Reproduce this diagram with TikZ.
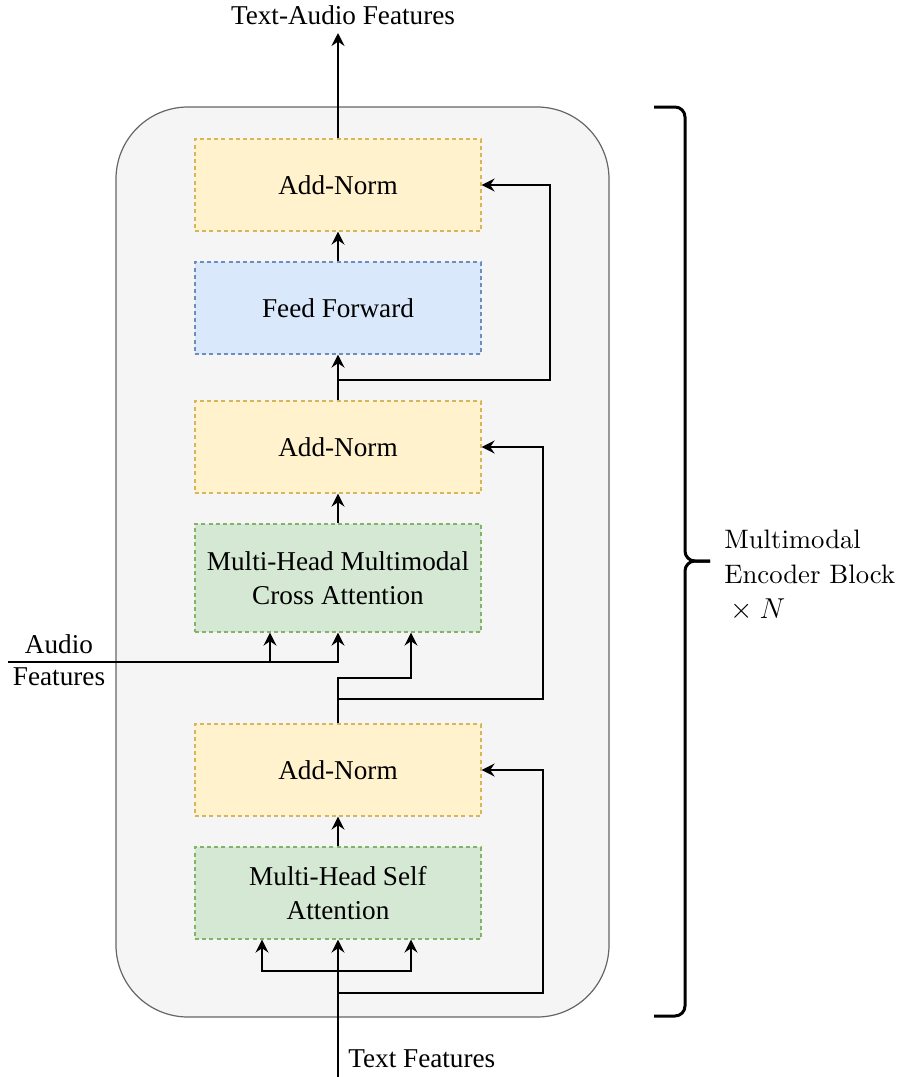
\documentclass[tikz,border=0pt]{standalone}
\usepackage{fontspec}
\newfontfamily\serifface{Liberation Serif}
\newfontfamily\labelface{lmroman10-regular.otf}
\usetikzlibrary{arrows.meta}

\definecolor{normfill}{HTML}{FFF2CC}
\definecolor{normline}{HTML}{D6B656}
\definecolor{fffill}{HTML}{DAE8FC}
\definecolor{ffline}{HTML}{6C8EBF}
\definecolor{attfill}{HTML}{D5E8D4}
\definecolor{attline}{HTML}{82B366}
\definecolor{blockfill}{HTML}{F5F5F5}
\definecolor{blockline}{HTML}{666666}

\begin{document}
\begin{tikzpicture}[x=0.5pt,y=-0.5pt,
  box/.style={dash pattern=on 2pt off 1.6pt, line width=0.6pt,
    minimum width=143pt, minimum height=46pt, inner sep=0pt, align=center,
    font=\serifface\fontsize{13.6}{17}\selectfont},
  addnorm/.style={box, draw=normline, fill=normfill},
  ffbox/.style={box, draw=ffline, fill=fffill},
  attn/.style={box, draw=attline, fill=attfill},
  flow/.style={line width=1pt, -{Stealth[length=6.5pt,width=6.5pt,inset=2.2pt]}},
  lbl/.style={inner sep=0pt, font=\serifface\fontsize{13.6}{17}\selectfont},
  brace/.style={line width=1.5pt, rounded corners=5pt}
]
\useasboundingbox (0,0) rectangle (899,1077);

% encoder block background
\draw[draw=blockline, fill=blockfill, line width=0.6pt, rounded corners=36pt]
  (116,107) rectangle (609,1017);

% layers
\node[addnorm] (an1) at (338,185) {Add-Norm};
\node[ffbox]   (ff)  at (338,308) {Feed Forward};
\node[addnorm] (an2) at (338,447) {Add-Norm};
\node[attn, minimum height=54pt] (ca) at (338,578) {Multi-Head Multimodal\\Cross Attention};
\node[addnorm] (an3) at (338,770) {Add-Norm};
\node[attn]    (sa)  at (338,893) {Multi-Head Self\\Attention};

% labels
\node[lbl, anchor=base] (outlbl) at (343,24) {Text-Audio Features};
\node[lbl, anchor=base west] (inlbl) at (348,1067) {Text Features};
\node[lbl, anchor=base] (aud1) at (59,653) {Audio};
\node[lbl, anchor=base] (aud2) at (59,685) {Features};

% helper points
\coordinate (outtip) at (338,33);
\coordinate (tin) at (338,1077);
\coordinate (ain) at (8,662);
\coordinate (asplit) at (270,662);
\coordinate (k1) at (411,678);
\coordinate (j1) at (338,380);
\coordinate (r1) at (550,380);
\coordinate (j2) at (338,699);
\coordinate (r2) at (543,699);
\coordinate (s1) at (338,971);
\coordinate (sl) at (262,971);
\coordinate (sr) at (411,971);
\coordinate (j3) at (338,993);
\coordinate (r3) at (543,993);

% main path
\draw[flow] (an1.north) -- (outtip);
\draw[flow] (ff.north) -- (an1.south);
\draw[flow] (an2.north) -- (ff.south);
\draw[flow] (ca.north) -- (an2.south);
\draw[flow] (sa.north) -- (an3.south);
\draw[flow] (tin) -- (sa.south);

% self-attention inputs
\draw[flow] (s1) -- (sl) -- (sl |- sa.south);
\draw[flow] (s1) -- (sr) -- (sr |- sa.south);

% cross-attention inputs
\draw[flow] (ain) -| (ca.south);
\draw[flow] (asplit) -- (asplit |- ca.south);
\draw[flow] (an3.north) |- (k1) -- (k1 |- ca.south);

% residual connections
\draw[flow] (j1) -- (r1) |- (an1.east);
\draw[flow] (j2) -- (r2) |- (an2.east);
\draw[flow] (j3) -- (r3) |- (an3.east);

% repetition brace
\draw[brace] (654,107) -| (685,561) -- (710,561);
\draw[brace] (654,1016) -| (685,561) -- (710,561);
\node[anchor=north west, inner sep=0pt, align=left,
  font=\labelface\fontsize{13.35}{17.5}\selectfont] (blk) at (724,530)
  {Multimodal\\Encoder Block\\${}\times N$};
\end{tikzpicture}
\end{document}
